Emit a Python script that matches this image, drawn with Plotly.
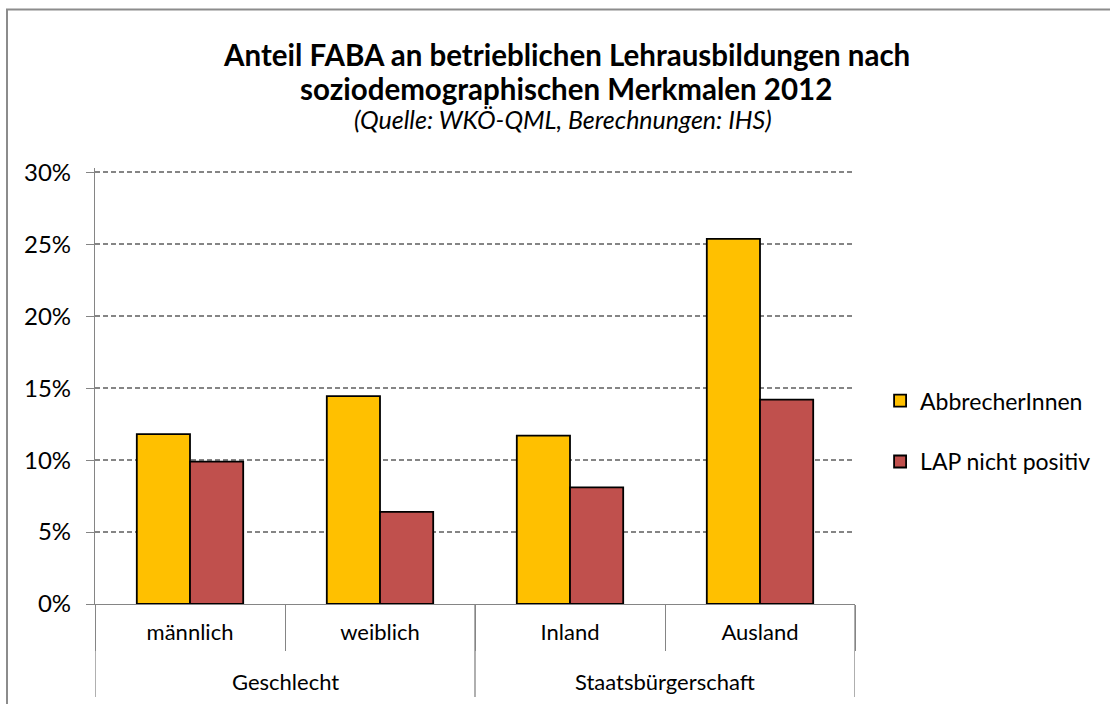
import plotly.graph_objects as go

groups = ["Geschlecht", "Geschlecht", "Staatsbürgerschaft", "Staatsbürgerschaft"]
categories = ["männlich", "weiblich", "Inland", "Ausland"]
abbrecher = [0.118, 0.1445, 0.117, 0.2537]
lap_nicht_positiv = [0.099, 0.064, 0.081, 0.142]
y_ticks = [0, 0.05, 0.10, 0.15, 0.20, 0.25, 0.30]
y_ticklabels = ["0%", "5%", "10%", "15%", "20%", "25%", "30%"]

FONT = "Lato, Carlito, 'Open Sans', sans-serif"
GREY = "#858585"

fig = go.Figure()
fig.add_trace(go.Bar(
    x=categories, y=abbrecher, name="AbbrecherInnen", legendgroup="a",
    marker=dict(color="#FFC000", line=dict(color="#000000", width=1.8)),
))
fig.add_trace(go.Bar(
    x=categories, y=lap_nicht_positiv, name="LAP nicht positiv", legendgroup="b",
    marker=dict(color="#C0504D", line=dict(color="#000000", width=1.8)),
))

W, H = 1110, 704
Y_MAX, Y_TOP = 0.30, 0.303       # axis top slightly above the 30% line so it is drawn
PX_TOP30, PX_ZERO = 172, 604      # pixel rows of the 30% and 0% lines
L, R = 95, 255
B = H - PX_ZERO
ph = (PX_ZERO - PX_TOP30) * Y_TOP / Y_MAX
T = H - B - ph
pw = W - L - R

def px2paper_x(px):
    return (px - L) / pw

def px2paper_y(py):
    return (H - B - py) / ph

# group boundaries (in category index units) and group centres
bounds = [-0.5]
centres = []
start = 0
for i in range(1, len(groups) + 1):
    if i == len(groups) or groups[i] != groups[start]:
        bounds.append(i - 0.5)
        centres.append(((start + i - 1) / 2, groups[start]))
        start = i

shapes = [dict(type="rect", xref="paper", yref="paper",
               x0=px2paper_x(7), x1=px2paper_x(1120),
               y0=px2paper_y(720), y1=px2paper_y(9),
               line=dict(color="#8C8C8C", width=2), layer="below")]
for b in bounds:
    shapes.append(dict(type="line", xref="x", yref="paper", x0=b, x1=b,
                       y0=0, y1=px2paper_y(697),
                       line=dict(color=GREY, width=1.3)))

annotations = [
    dict(text="<b>Anteil FABA an betrieblichen Lehrausbildungen nach</b>",
         xref="paper", yref="paper", x=px2paper_x(566), y=px2paper_y(54),
         xanchor="center", yanchor="middle", showarrow=False,
         font=dict(size=29.5, family=FONT)),
    dict(text="<b>soziodemographischen Merkmalen 2012</b>",
         xref="paper", yref="paper", x=px2paper_x(566), y=px2paper_y(88),
         xanchor="center", yanchor="middle", showarrow=False,
         font=dict(size=29.5, family=FONT)),
    dict(text="<i>(Quelle: WKÖ-QML, Berechnungen: IHS)</i>",
         xref="paper", yref="paper", x=px2paper_x(563), y=px2paper_y(119),
         xanchor="center", yanchor="middle", showarrow=False,
         font=dict(size=25, family=FONT)),
]
for cx, label in centres:
    annotations.append(dict(text=label, xref="x", yref="paper", x=cx,
                            y=px2paper_y(682), xanchor="center", yanchor="middle",
                            showarrow=False, font=dict(size=22, family=FONT)))

fig.update_layout(
    width=W, height=H,
    margin=dict(l=L, r=R, t=T, b=B),
    paper_bgcolor="white", plot_bgcolor="white",
    font=dict(family=FONT, color="#000000", size=22),
    barmode="group", bargap=0.44, bargroupgap=0,
    showlegend=True,
    legend=dict(x=1.033, y=(PX_ZERO - 431) / ph, xanchor="left", yanchor="middle",
                font=dict(size=23, family=FONT), tracegroupgap=28,
                itemwidth=30, bgcolor="rgba(0,0,0,0)"),
    xaxis=dict(
        type="category", range=[-0.5, len(categories) - 0.5],
        showline=True, linecolor=GREY, linewidth=1.3,
        ticks="outside", tickson="boundaries", ticklen=46,
        tickcolor=GREY, tickwidth=1.3,
        tickfont=dict(size=22, family=FONT, color="#000000"),
        ticklabelstandoff=8,
        showgrid=False,
    ),
    yaxis=dict(
        range=[0, Y_TOP], tickvals=y_ticks, ticktext=y_ticklabels,
        showline=True, linecolor=GREY, linewidth=1.3,
        ticks="outside", ticklen=8, tickcolor=GREY, tickwidth=1.3,
        showgrid=True, gridcolor=GREY, gridwidth=1.6, griddash="5px,3px",
        zeroline=False,
        tickfont=dict(size=24, family=FONT, color="#000000"),
        ticklabelstandoff=10,
    ),
    shapes=shapes,
    annotations=annotations,
)

fig.write_html("out.html", config={"displayModeBar": False},
               post_script="document.body.style.margin='0px';")
